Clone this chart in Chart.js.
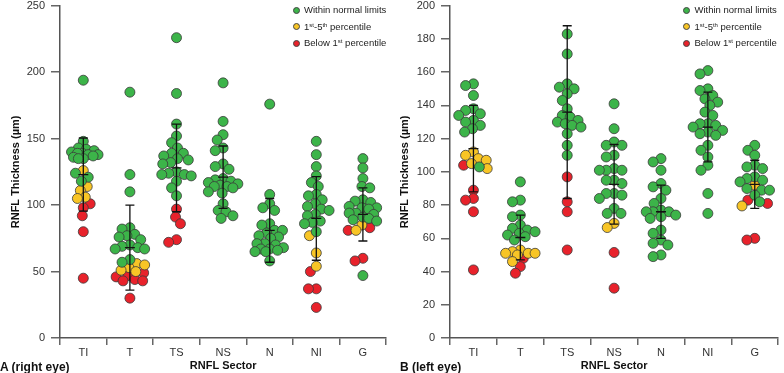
<!DOCTYPE html>
<html>
<head>
<meta charset="utf-8">
<script src="https://cdn.jsdelivr.net/npm/chart.js@4.4.1/dist/chart.umd.min.js"></script>
<style>
	body { margin: 0; background: #fff; font-family: 'Liberation Sans', Arial, sans-serif; }
	#wrap { position: relative; width: 784px; height: 373px; }
	.panel { position: absolute; top: 0; width: 392px; height: 373px; }
	.tag { position: absolute; top: 360px; font-weight: bold; font-size: 12px; line-height: 14px; color: #111; }
	.legend { position: absolute; top: 3px; font-size: 9.5px; color: #222; }
	.legend div { position: relative; height: 16.5px; line-height: 14px; padding-left: 11.5px; white-space: nowrap; }
	.legend i { position: absolute; left: 0; top: 3.5px; width: 7px; height: 7px; border-radius: 50%; border: 0.8px solid #444; box-sizing: border-box; }
	.legend sup { font-size: 6px; vertical-align: 3px; line-height: 0; }
</style>
</head>
<body>
<div id="wrap">
	<div class="panel" style="left:0"><canvas id="chart-right-eye" width="392" height="373"></canvas></div>
	<div class="panel" style="left:392px"><canvas id="chart-left-eye" width="392" height="373"></canvas></div>
	<div class="tag" style="left:0">A (right eye)</div>
	<div class="tag" style="left:400px">B (left eye)</div>
	<div class="legend" style="left:292.5px" id="legend-right-eye"></div>
	<div class="legend" style="left:683px" id="legend-left-eye"></div>
</div>
<script>
const sectors = ["TI", "T", "TS", "NS", "N", "NI", "G"];

// A (right eye), one array per sector
const rightNormal = [
	[194, 148, 143, 142, 141, 140, 139, 139, 138, 138, 137, 136, 135, 135, 124, 121, 118],
	[185, 123, 110, 83, 82, 78, 77, 76, 74, 70, 69, 68, 67, 67, 59, 57],
	[226, 184, 161, 152, 147, 143, 139, 139, 137, 135, 134, 132, 131, 125, 124, 123, 123, 122, 118, 113, 107],
	[192, 163, 153, 149, 143, 141, 131, 129, 127, 120, 119, 118, 117, 116, 115, 114, 114, 113, 110, 109, 101, 96, 95, 92, 90],
	[176, 108, 101, 98, 96, 86, 85, 81, 81, 79, 77, 76, 75, 71, 71, 70, 68, 67, 67, 66, 65, 65, 58],
	[148, 138, 129, 122, 117, 114, 108, 107, 104, 101, 99, 97, 96, 93, 92, 88, 87, 86, 80],
	[135, 128, 120, 114, 113, 104, 103, 102, 99, 98, 98, 97, 94, 94, 93, 91, 90, 89, 88, 47]
];
const rightP1to5 = [
	[126, 114, 111, 106, 105],
	[56, 55, 53, 51, 50],
	[],
	[],
	[],
	[77, 64, 54],
	[85, 81]
];
const rightBelow1 = [
	[101, 98, 92, 80, 45],
	[49, 47, 46, 44, 43, 43, 30],
	[97, 91, 86, 74, 72],
	[],
	[],
	[50, 37, 37, 23],
	[83, 81, 60, 58]
];
const rightMean = [123, 68, 128, 121, 81, 90, 93];
const rightSD = [27.5, 32, 33, 23.5, 24, 31.5, 20];

// B (left eye)
const leftNormal = [
	[153, 152, 146, 138, 137, 135, 134, 131, 130, 128, 126, 124, 103],
	[94, 83, 82, 74, 73, 68, 66, 65, 64, 63, 62, 61, 59],
	[183, 171, 153, 151, 150, 147, 143, 138, 134, 133, 131, 130, 129, 128, 127, 123, 116, 110],
	[141, 126, 118, 116, 116, 110, 109, 102, 101, 101, 101, 95, 95, 93, 87, 87, 86, 84, 78, 75, 75],
	[108, 106, 101, 93, 91, 89, 84, 81, 77, 76, 76, 76, 74, 73, 72, 65, 63, 59, 57, 56, 50, 49],
	[161, 159, 150, 149, 146, 144, 142, 140, 136, 134, 129, 129, 128, 127, 125, 124, 123, 122, 116, 113, 109, 104, 101, 87, 75],
	[116, 113, 110, 104, 103, 102, 97, 96, 95, 94, 90, 89, 89, 86, 82]
];
const leftP1to5 = [
	[112, 110, 108, 107, 105, 102],
	[53, 52, 51, 51, 51, 50, 46],
	[],
	[69, 66.5],
	[],
	[],
	[92, 79.5]
];
const leftBelow1 = [
	[104, 89, 84, 83, 76, 41],
	[48, 43, 39],
	[97, 82, 76, 53],
	[51.5, 30],
	[],
	[],
	[83, 81, 60, 59]
];
const leftMean = [114, 60.5, 136, 92.5, 76, 127, 92.5];
const leftSD = [26, 13.5, 52, 24, 16, 21, 14.5];

const groupLabels = ["Within normal limits", "1st-5th percentile", "Below 1st percentile"];
const groupLegendHtml = ["Within normal limits", "1<sup>st</sup>-5<sup>th</sup> percentile", "Below 1<sup>st</sup> percentile"];
const groupColors = ["#3cb449", "#f8c526", "#e8222b"];

const FONT = "'Liberation Sans', Arial, sans-serif";

// mean +/- SD bars, drawn over the points
const errorBars = {
	id: "errorBars",
	afterDatasetsDraw(chart, args, opts) {
		const ctx = chart.ctx;
		const x = chart.scales.x;
		const y = chart.scales.y;
		ctx.save();
		ctx.strokeStyle = "#111";
		ctx.lineWidth = 1.3;
		opts.means.forEach(function(m, i) {
			const px = x.getPixelForValue(i);
			const top = y.getPixelForValue(m + opts.sds[i]);
			const bot = y.getPixelForValue(m - opts.sds[i]);
			const mid = y.getPixelForValue(m);
			ctx.beginPath();
			ctx.moveTo(px, top); ctx.lineTo(px, bot);
			ctx.moveTo(px - 4.5, top); ctx.lineTo(px + 4.5, top);
			ctx.moveTo(px - 4.5, bot); ctx.lineTo(px + 4.5, bot);
			ctx.moveTo(px - 5, mid); ctx.lineTo(px + 5, mid);
			ctx.stroke();
		});
		ctx.restore();
	}
};

// narrow beeswarm: offsets in pixels, kept within +/- maxW of the centre line,
// points may overlap a little like in the original figure
function swarmOffsets(ys, d, maxW) {
	const order = ys.map(function(y, i) { return i; }).sort(function(a, b) { return ys[a] - ys[b]; });
	const placed = [];
	const out = new Array(ys.length);
	order.forEach(function(i) {
		const y = ys[i];
		const cands = [];
		for (let c = -maxW; c <= maxW; c += 1) cands.push(c);
		cands.sort(function(a, b) { return Math.abs(a) - Math.abs(b) || a - b; });
		let best = 0, bestGap = -1;
		for (const c of cands) {
			let gap = Infinity;
			placed.forEach(function(p) { gap = Math.min(gap, Math.hypot(p.x - c, p.y - y)); });
			if (gap >= d) { best = c; bestGap = gap; break; }
			if (gap > bestGap + 0.5) { best = c; bestGap = gap; }
		}
		placed.push({ x: best, y: y });
		out[i] = best;
	});
	return out;
}

function makePanel(canvasId, groups, means, sds, yMax, yStep, axisWidth, titlePad) {
	const tickFont = { family: FONT, size: 11 };
	const titleFont = { family: FONT, size: 11, weight: "bold" };

	const chart = new Chart(document.getElementById(canvasId), {
		type: "scatter",
		data: {
			datasets: groupLabels.map(function(label, g) {
				return {
					label: label,
					data: [],
					backgroundColor: groupColors[g],
					borderColor: "#3a3a3a",
					borderWidth: 0.8,
					pointRadius: 5,
					pointHoverRadius: 5
				};
			})
		},
		options: {
			responsive: false,
			animation: false,
			layout: { padding: 0 },
			plugins: {
				legend: { display: false },
				tooltip: { enabled: false },
				errorBars: { means: means, sds: sds }
			},
			scales: {
				x: {
					type: "linear",
					min: -0.5,
					max: 6.5,
					afterBuildTicks: function(s) { s.ticks = sectors.map(function(_, i) { return { value: i }; }); },
					afterFit: function(s) { s.height = 35; },
					ticks: { callback: function(v) { return sectors[v]; }, font: tickFont, color: "#333", padding: 1, maxRotation: 0 },
					grid: { display: true, drawOnChartArea: false, offset: true, tickLength: 7, color: "#666", lineWidth: 1.5 },
					border: { display: true, color: "#555", width: 1.5 },
					title: { display: true, text: "RNFL Sector", font: titleFont, color: "#111", padding: 0 }
				},
				y: {
					min: 0,
					max: yMax,
					afterFit: function(s) { s.width = axisWidth; s.paddingTop = 5; s.paddingBottom = 0; },
					ticks: { stepSize: yStep, font: tickFont, color: "#333", padding: 6 },
					grid: { display: true, drawOnChartArea: false, tickLength: 9, color: "#666", lineWidth: 1.5 },
					border: { display: true, color: "#555", width: 1.5 },
					title: { display: true, text: "RNFL Thickness (µm)", font: titleFont, color: "#111", padding: { top: titlePad, bottom: 0 } }
				}
			}
		},
		plugins: [errorBars]
	});

	// place points now that the scales know their pixel sizes
	const xs = chart.scales.x;
	const ys = chart.scales.y;
	const pxPerSector = xs.getPixelForValue(1) - xs.getPixelForValue(0);
	sectors.forEach(function(_, i) {
		const pts = [];
		groups.forEach(function(arr, g) {
			arr[i].forEach(function(v) { pts.push({ g: g, v: v }); });
		});
		const offs = swarmOffsets(pts.map(function(p) { return ys.getPixelForValue(p.v); }), 8, 15);
		pts.forEach(function(p, k) {
			chart.data.datasets[p.g].data.push({ x: i + offs[k] / pxPerSector, y: p.v });
		});
	});
	chart.update("none");
	return chart;
}

function makeLegend(id) {
	const box = document.getElementById(id);
	groupLegendHtml.forEach(function(html, g) {
		const row = document.createElement("div");
		const dot = document.createElement("i");
		dot.style.background = groupColors[g];
		row.appendChild(dot);
		const span = document.createElement("span");
		span.innerHTML = html;
		row.appendChild(span);
		box.appendChild(row);
	});
}

makePanel("chart-right-eye", [rightNormal, rightP1to5, rightBelow1], rightMean, rightSD, 250, 50, 60, 9.5);
makePanel("chart-left-eye", [leftNormal, leftP1to5, leftBelow1], leftMean, leftSD, 200, 20, 58, 6);
makeLegend("legend-right-eye");
makeLegend("legend-left-eye");
</script>
</body>
</html>
